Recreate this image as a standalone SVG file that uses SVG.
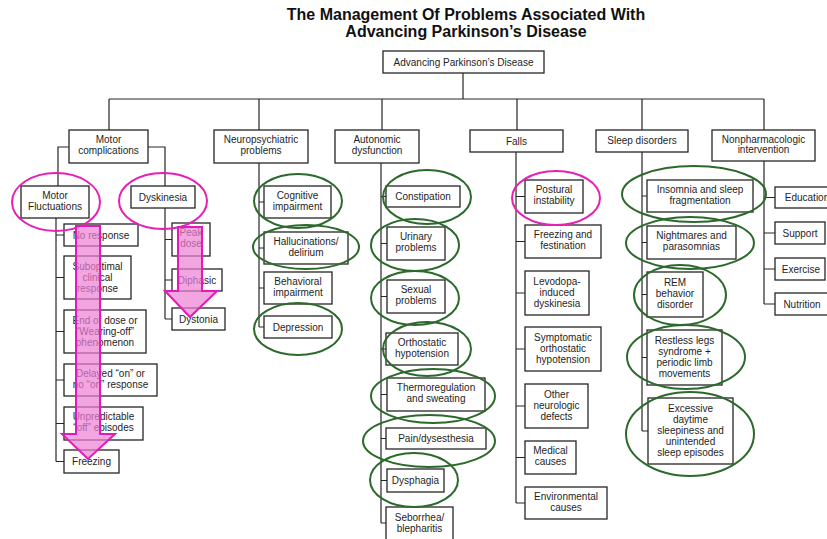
<svg xmlns="http://www.w3.org/2000/svg" width="827" height="539" viewBox="0 0 827 539">
<style>
.b{fill:#fff;stroke:#262626;stroke-width:1.3}
.t{font-family:"Liberation Sans",Arial,sans-serif;font-size:10px;fill:#1e1e1e;text-anchor:middle}
.title{font-family:"Liberation Sans",Arial,sans-serif;font-size:16px;font-weight:bold;fill:#111;text-anchor:middle}
.c{fill:none;stroke:#262626;stroke-width:1.2}
.pk{fill:none;stroke:#e61fb5;stroke-width:2}
.gr{fill:none;stroke:#2c6a2c;stroke-width:2}
.ar{fill:#ec7fd4;fill-opacity:0.7;stroke:#e21ab8;stroke-width:2}
</style>
<rect width="827" height="539" fill="#fff"/>
<g id="title">
<text class="title" x="466" y="20">The Management Of Problems Associated With</text>
<text class="title" x="466" y="37">Advancing Parkinson’s Disease</text>
</g>
<g id="connectors">
<path class="c" d="M463,73V99M109,99H764M109,99V130M259,99V130M382,99V130M517,99V130M642,99V130M764,99V130"/>
<path class="c" d="M69,147H58V186M148,147H165V186"/>
<path class="c" d="M56,218V461.5M56,235H64M56,277.5H64M56,331.5H64M56,380H64M56,423.5H64M56,461.5H64"/>
<path class="c" d="M165,208V319M165,239.5H172M165,280H172M165,319H172"/>
<path class="c" d="M259,163V327M259,202H264M259,248H264M259,288H264M259,327H264"/>
<path class="c" d="M381,163V523M381,196.5H386M381,243.5H387M381,296.5H387M381,349H386M381,394.5H387M381,438.5H386M381,480.5H387M381,523H386"/>
<path class="c" d="M516,152V503M516,196.5H525M516,241.5H525M516,293H525M516,349H525M516,406H525M516,457.5H525M516,503H525"/>
<path class="c" d="M642,152V431M642,196H647M642,242.5H647M642,294.5H647M642,357.5H647M642,431H648"/>
<path class="c" d="M764,161V304M764,197.5H775M764,233H775M764,269H775M764,304H775"/>
</g>
<g id="root"><rect class="b" x="383" y="51" width="161" height="22"/><text class="t" x="463.5" y="65.5">Advancing Parkinson’s Disease</text></g>
<g id="motor"><rect class="b" x="69" y="130" width="79" height="33"/><text class="t" x="108.5" y="143">Motor</text><text class="t" x="108.5" y="154">complications</text></g>
<g id="neuro"><rect class="b" x="214" y="130" width="94" height="33"/><text class="t" x="261" y="143">Neuropsychiatric</text><text class="t" x="261" y="154">problems</text></g>
<g id="auto"><rect class="b" x="335" y="130" width="84" height="33"/><text class="t" x="377" y="143">Autonomic</text><text class="t" x="377" y="154">dysfunction</text></g>
<g id="falls"><rect class="b" x="470" y="130" width="93" height="22"/><text class="t" x="516.5" y="144.5">Falls</text></g>
<g id="sleep"><rect class="b" x="596" y="130" width="92" height="22"/><text class="t" x="642" y="144">Sleep disorders</text></g>
<g id="nonpharm"><rect class="b" x="712" y="130" width="103" height="31"/><text class="t" x="763.5" y="143">Nonpharmacologic</text><text class="t" x="763.5" y="153">intervention</text></g>

<g id="mf"><rect class="b" x="21" y="186" width="68" height="32"/><text class="t" x="55" y="199">Motor</text><text class="t" x="55" y="210">Fluctuations</text></g>
<g id="dysk"><rect class="b" x="131" y="186" width="64" height="22"/><text class="t" x="163" y="200.5">Dyskinesia</text></g>
<g id="noresp"><rect class="b" x="64" y="224" width="74" height="22"/><text class="t" x="101" y="238.5">No response</text></g>
<g id="subopt"><rect class="b" x="64" y="256" width="67" height="43"/><text class="t" x="97.5" y="270">Suboptimal</text><text class="t" x="97.5" y="281">clinical</text><text class="t" x="97.5" y="292">response</text></g>
<g id="eod"><rect class="b" x="64" y="310" width="82" height="43"/><text class="t" x="105" y="324">End of dose or</text><text class="t" x="105" y="335">“Wearing-off”</text><text class="t" x="105" y="346">phenomenon</text></g>
<g id="delayed"><rect class="b" x="64" y="364" width="93" height="32"/><text class="t" x="110.5" y="377">Delayed “on” or</text><text class="t" x="110.5" y="388">no “on” response</text></g>
<g id="unpred"><rect class="b" x="64" y="407" width="79" height="33"/><text class="t" x="103.5" y="420">Unpredictable</text><text class="t" x="103.5" y="431">“off” episodes</text></g>
<g id="freezing"><rect class="b" x="64" y="450" width="55" height="23"/><text class="t" x="91.5" y="465">Freezing</text></g>
<g id="peak"><rect class="b" x="172" y="223" width="38" height="33"/><text class="t" x="191" y="236">Peak</text><text class="t" x="191" y="247">dose</text></g>
<g id="diphasic"><rect class="b" x="172" y="269" width="50" height="22"/><text class="t" x="197" y="283.5">Diphasic</text></g>
<g id="dystonia"><rect class="b" x="172" y="308" width="53" height="22"/><text class="t" x="198.5" y="322.5">Dystonia</text></g>

<g id="cog"><rect class="b" x="264" y="186" width="67" height="32"/><text class="t" x="297.5" y="199">Cognitive</text><text class="t" x="297.5" y="210">impairment</text></g>
<g id="hall"><rect class="b" x="264" y="232" width="84" height="32"/><text class="t" x="306" y="245">Hallucinations/</text><text class="t" x="306" y="256">delirium</text></g>
<g id="behav"><rect class="b" x="264" y="272" width="68" height="32"/><text class="t" x="298" y="285">Behavioral</text><text class="t" x="298" y="296">impairment</text></g>
<g id="dep"><rect class="b" x="264" y="316" width="68" height="22"/><text class="t" x="298" y="330.5">Depression</text></g>

<g id="const"><rect class="b" x="386" y="186" width="74" height="21"/><text class="t" x="423" y="200">Constipation</text></g>
<g id="urin"><rect class="b" x="387" y="227" width="58" height="33"/><text class="t" x="416" y="240">Urinary</text><text class="t" x="416" y="251">problems</text></g>
<g id="sex"><rect class="b" x="387" y="280" width="58" height="33"/><text class="t" x="416" y="293">Sexual</text><text class="t" x="416" y="304">problems</text></g>
<g id="ortho"><rect class="b" x="386" y="333" width="72" height="32"/><text class="t" x="422" y="346">Orthostatic</text><text class="t" x="422" y="357">hypotension</text></g>
<g id="thermo"><rect class="b" x="387" y="378" width="98" height="33"/><text class="t" x="436" y="391">Thermoregulation</text><text class="t" x="436" y="402">and sweating</text></g>
<g id="pain"><rect class="b" x="386" y="428" width="100" height="21"/><text class="t" x="436" y="442">Pain/dysesthesia</text></g>
<g id="dysph"><rect class="b" x="387" y="469" width="57" height="23"/><text class="t" x="415.5" y="484">Dysphagia</text></g>
<g id="seb"><rect class="b" x="386" y="507" width="67" height="40"/><text class="t" x="419.5" y="521">Seborrhea/</text><text class="t" x="419.5" y="532">blepharitis</text></g>

<g id="postural"><rect class="b" x="525" y="180" width="58" height="33"/><text class="t" x="554" y="193">Postural</text><text class="t" x="554" y="204">instability</text></g>
<g id="frfest"><rect class="b" x="525" y="225" width="76" height="33"/><text class="t" x="563" y="238">Freezing and</text><text class="t" x="563" y="249">festination</text></g>
<g id="levo"><rect class="b" x="525" y="271" width="64" height="44"/><text class="t" x="557" y="285">Levodopa-</text><text class="t" x="557" y="296">induced</text><text class="t" x="557" y="307">dyskinesia</text></g>
<g id="symp"><rect class="b" x="525" y="327" width="76" height="44"/><text class="t" x="563" y="341">Symptomatic</text><text class="t" x="563" y="352">orthostatic</text><text class="t" x="563" y="363">hypotension</text></g>
<g id="other"><rect class="b" x="525" y="384" width="63" height="44"/><text class="t" x="556.5" y="398">Other</text><text class="t" x="556.5" y="409">neurologic</text><text class="t" x="556.5" y="420">defects</text></g>
<g id="medical"><rect class="b" x="525" y="441" width="51" height="33"/><text class="t" x="550.5" y="454">Medical</text><text class="t" x="550.5" y="465">causes</text></g>
<g id="env"><rect class="b" x="525" y="487" width="82" height="32"/><text class="t" x="566" y="500">Environmental</text><text class="t" x="566" y="511">causes</text></g>

<g id="insom"><rect class="b" x="647" y="180" width="106" height="32"/><text class="t" x="700" y="193">Insomnia and sleep</text><text class="t" x="700" y="204">fragmentation</text></g>
<g id="night"><rect class="b" x="647" y="226" width="89" height="33"/><text class="t" x="691.5" y="239">Nightmares and</text><text class="t" x="691.5" y="250">parasomnias</text></g>
<g id="rem"><rect class="b" x="647" y="272" width="56" height="45"/><text class="t" x="675" y="286">REM</text><text class="t" x="675" y="297">behavior</text><text class="t" x="675" y="308">disorder</text></g>
<g id="rls"><rect class="b" x="647" y="330" width="75" height="55"/><text class="t" x="684.5" y="344">Restless legs</text><text class="t" x="684.5" y="355">syndrome +</text><text class="t" x="684.5" y="366">periodic limb</text><text class="t" x="684.5" y="377">movements</text></g>
<g id="eds"><rect class="b" x="648" y="398" width="85" height="66"/><text class="t" x="690.5" y="412">Excessive</text><text class="t" x="690.5" y="423">daytime</text><text class="t" x="690.5" y="434">sleepiness and</text><text class="t" x="690.5" y="445">unintended</text><text class="t" x="690.5" y="456">sleep episodes</text></g>

<g id="edu"><rect class="b" x="775" y="187" width="64" height="21"/><text class="t" x="807" y="201">Education</text></g>
<g id="support"><rect class="b" x="775" y="222" width="50" height="22"/><text class="t" x="800" y="236.5">Support</text></g>
<g id="exercise"><rect class="b" x="775" y="258" width="50" height="22"/><text class="t" x="801" y="272.5">Exercise</text></g>
<g id="nutrition"><rect class="b" x="775" y="293" width="56" height="22"/><text class="t" x="802" y="307.5">Nutrition</text></g>

<g id="highlights">
<ellipse class="pk" cx="56" cy="202" rx="44" ry="29"/>
<ellipse class="pk" cx="163" cy="201" rx="44" ry="28"/>
<ellipse class="pk" cx="556" cy="198" rx="44" ry="27"/>
<ellipse class="gr" cx="298" cy="201" rx="44" ry="27"/>
<ellipse class="gr" cx="306" cy="247" rx="53" ry="22"/>
<ellipse class="gr" cx="298" cy="329" rx="44" ry="26"/>
<ellipse class="gr" cx="427" cy="197" rx="44" ry="27"/>
<ellipse class="gr" cx="415" cy="245" rx="44" ry="26"/>
<ellipse class="gr" cx="415" cy="298" rx="44" ry="27"/>
<ellipse class="gr" cx="427" cy="349" rx="44" ry="27"/>
<ellipse class="gr" cx="433" cy="396" rx="62" ry="27"/>
<ellipse class="gr" cx="429" cy="441" rx="66" ry="26"/>
<ellipse class="gr" cx="414" cy="480" rx="44" ry="27"/>
<ellipse class="gr" cx="694" cy="194" rx="72" ry="28"/>
<ellipse class="gr" cx="690" cy="243" rx="64" ry="26"/>
<ellipse class="gr" cx="680" cy="295" rx="46" ry="30"/>
<ellipse class="gr" cx="686" cy="357" rx="59" ry="32"/>
<ellipse class="gr" cx="690" cy="434" rx="64" ry="42"/>
</g>
<g id="arrows">
<polygon class="ar" points="76,226 100,226 100,434 115,434 88,459 62,434 76,434"/>
<polygon class="ar" points="178,227 202,227 202,291 217,291 190,317 165,291 178,291"/>
</g>
</svg>
